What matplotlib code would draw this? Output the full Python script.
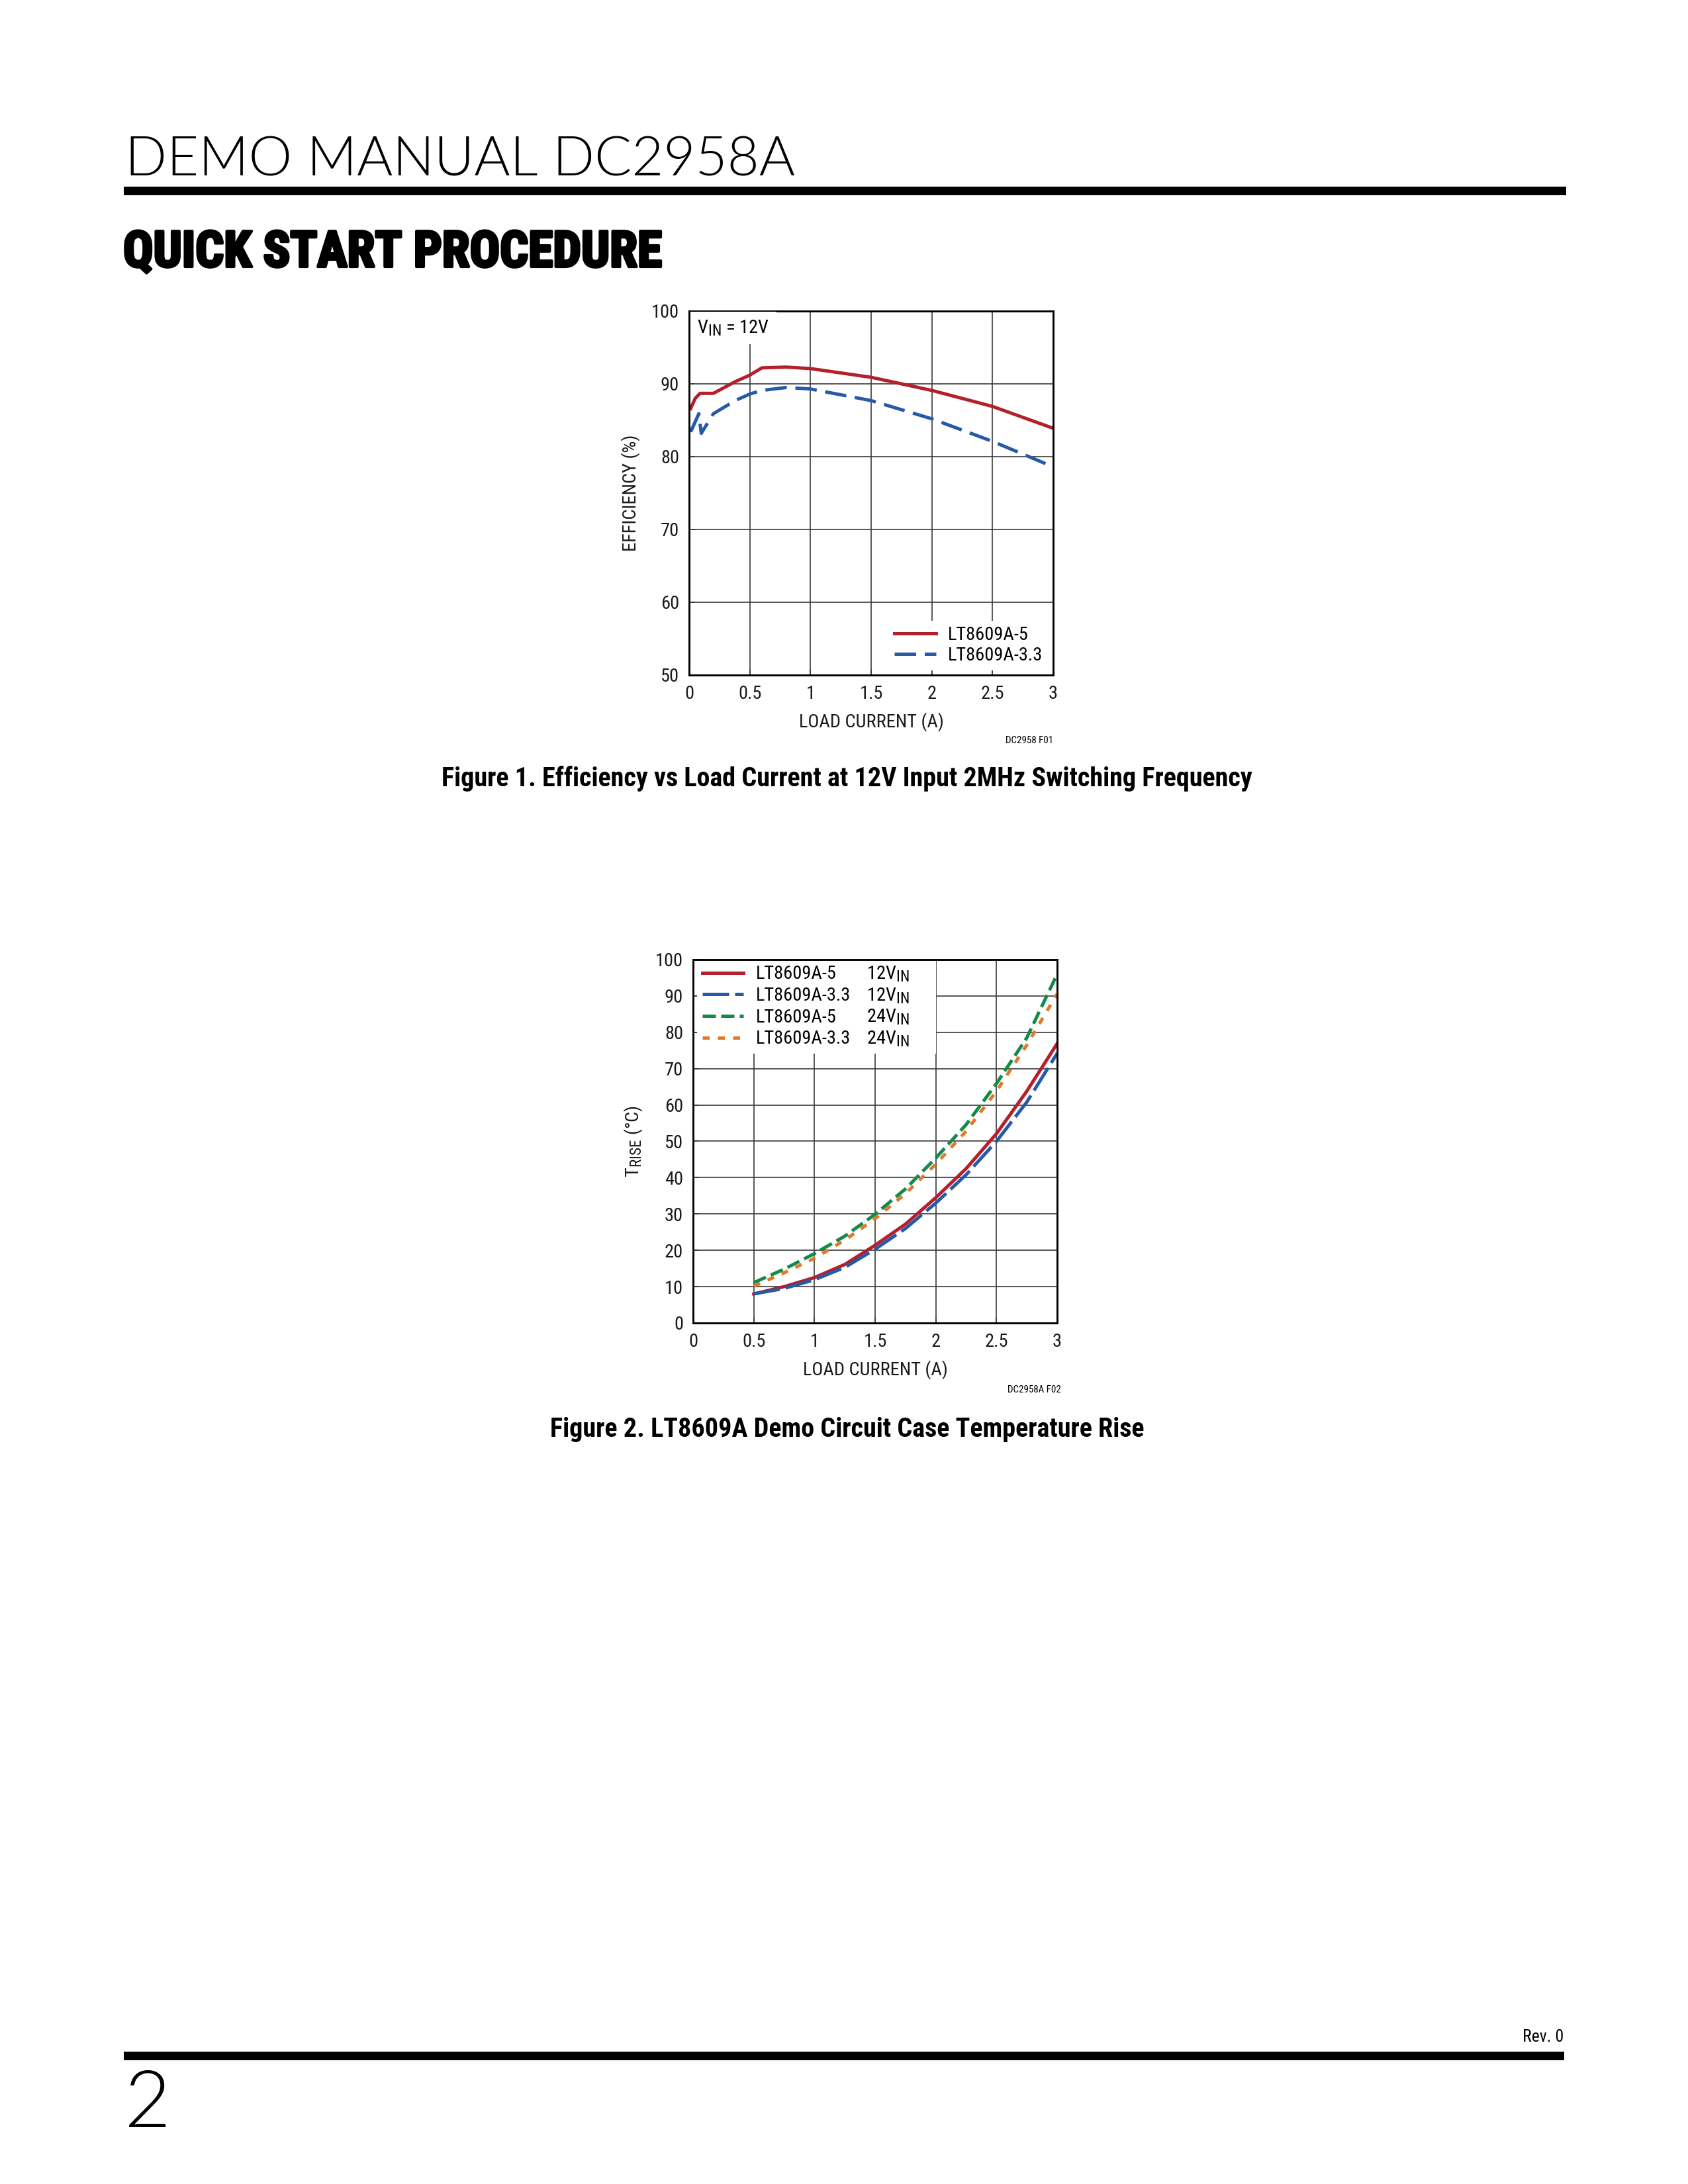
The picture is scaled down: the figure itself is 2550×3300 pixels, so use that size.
import matplotlib
matplotlib.use('Agg')
import matplotlib.pyplot as plt
import matplotlib.patheffects as pe
from matplotlib import font_manager as fm
from matplotlib.patches import Rectangle

# bigger sub/superscripts, closer to the datasheet look
try:
    import matplotlib._mathtext as _mt
    _mt.SHRINK_FACTOR = 0.82
except Exception:
    pass


# ---- data ----
# Figure 1: efficiency vs load current, VIN = 12V
i_load_5v = [0.013, 0.05, 0.09, 0.2, 0.38, 0.5, 0.6, 0.8, 1.0, 1.5, 2.0, 2.5, 3.0]
eff_5v = [86.6, 88.0, 88.7, 88.7, 90.3, 91.2, 92.2, 92.3, 92.1, 90.9, 89.1, 86.9, 83.9]
i_load_33v = [0.013, 0.08, 0.1, 0.2, 0.38, 0.5, 0.6, 0.8, 1.0, 1.5, 2.0, 2.5, 3.0]
eff_33v = [83.4, 85.9, 83.2, 85.9, 87.7, 88.6, 89.1, 89.5, 89.3, 87.7, 85.2, 82.1, 78.6]
eff_labels = ['LT8609A-5', 'LT8609A-3.3']

# Figure 2: case temperature rise
i_load = [0.5, 0.75, 1.0, 1.25, 1.5, 1.75, 2.0, 2.25, 2.5, 2.75, 3.0]
trise_5v_12 = [8.0, 10.0, 12.5, 16.1, 21.4, 27.2, 34.5, 42.5, 52.1, 63.8, 76.9]
trise_33v_12 = [8.0, 9.5, 11.9, 15.3, 20.3, 26.0, 33.0, 40.8, 50.0, 60.8, 74.2]
trise_5v_24 = [11.1, 14.8, 19.1, 23.9, 29.9, 36.9, 45.4, 54.6, 65.9, 78.5, 96.0]
trise_33v_24 = [10.1, 13.8, 17.8, 22.8, 28.7, 35.6, 43.7, 52.8, 63.8, 76.5, 90.6]
trise_parts = ['LT8609A-5', 'LT8609A-3.3', 'LT8609A-5', 'LT8609A-3.3']
trise_vin = [r'12V$_{\mathrm{IN}}$', r'12V$_{\mathrm{IN}}$', r'24V$_{\mathrm{IN}}$', r'24V$_{\mathrm{IN}}$']

x_ticks = [0, 0.5, 1, 1.5, 2, 2.5, 3]
x_tick_labels = ['0', '0.5', '1', '1.5', '2', '2.5', '3']
eff_ticks = [50, 60, 70, 80, 90, 100]
trise_ticks = [0, 10, 20, 30, 40, 50, 60, 70, 80, 90, 100]

RED = '#b3202b'
BLUE = '#2659a8'
GREEN = '#15894a'
ORANGE = '#e07a2a'


# ---- fonts ----
def _w(f):
    w = f.weight
    if isinstance(w, str):
        w = fm.weight_dict.get(w, 400)
    return w


def pick_font(names, weight):
    for name in names:
        cands = [f for f in fm.fontManager.ttflist
                 if f.name == name and f.style == 'normal']
        if cands:
            best = min(cands, key=lambda f: abs(_w(f) - weight))
            return name, best.fname
    return 'DejaVu Sans', fm.findfont('DejaVu Sans')


narrow_name, _ = pick_font(['Liberation Sans Narrow', 'Roboto Condensed',
                            'Liberation Sans'], 400)
_, narrow_bold_file = pick_font([narrow_name], 700)
_, light_file = pick_font(['Lato', 'Open Sans', 'Roboto', 'DejaVu Sans'], 300)

plt.rcParams['font.family'] = [narrow_name, 'DejaVu Sans']
plt.rcParams['mathtext.fontset'] = 'custom'
plt.rcParams['mathtext.rm'] = narrow_name
plt.rcParams['mathtext.it'] = narrow_name
plt.rcParams['mathtext.bf'] = narrow_name

FS = 6.8
W, H = 2550, 3300

fig = plt.figure(figsize=(8.5, 11), dpi=300)


def style_axes(ax, yticks):
    ax.set_xlim(0, 3)
    ax.set_ylim(yticks[0], yticks[-1])
    ax.set_xticks(x_ticks)
    ax.set_xticklabels(x_tick_labels)
    ax.set_yticks(yticks)
    ax.grid(True, color='#3a3a3a', lw=0.4)
    ax.tick_params(direction='in', length=2.2, width=0.4, color='#3a3a3a',
                   labelsize=FS, pad=3.6, labelcolor='#1a1a1a')
    for sp in ax.spines.values():
        sp.set_linewidth(0.7)
        sp.set_color('black')
    ax.set_xlabel('LOAD CURRENT (A)', fontsize=FS, color='#1a1a1a', labelpad=3.5)


# ---- Figure 1 ----
ax1 = fig.add_axes([1041 / W, 1 - 1020 / H, 550 / W, 550 / H])
style_axes(ax1, eff_ticks)
ax1.plot(i_load_5v, eff_5v, color=RED, lw=1.2, label=eff_labels[0],
         solid_joinstyle='round')
ax1.plot(i_load_33v, eff_33v, color=BLUE, lw=1.2, label=eff_labels[1],
         linestyle=(0, (6.5, 2.6)))
ax1.set_ylabel('EFFICIENCY (%)', fontsize=FS, color='#1a1a1a')
ax1.text(0.022, 0.94, r'V$_{\mathrm{IN}}$ = 12V', transform=ax1.transAxes,
         fontsize=FS, va='baseline', zorder=3,
         bbox=dict(facecolor='white', edgecolor='none', pad=2.5))
leg1 = ax1.legend(loc='lower right', fontsize=FS, frameon=True,
                  facecolor='white', edgecolor='none', framealpha=1,
                  fancybox=False, borderaxespad=0.25, borderpad=0.3,
                  handlelength=2.2, handletextpad=0.65, labelspacing=0.15)
leg1.set_zorder(2.2)
ax1.text(1.0, -0.187, 'DC2958 F01', transform=ax1.transAxes, ha='right',
         va='baseline', fontsize=3.6)

# ---- Figure 2 ----
ax2 = fig.add_axes([1047 / W, 1 - 1999 / H, 550 / W, 549 / H])
style_axes(ax2, trise_ticks)
ax2.plot(i_load, trise_5v_12, color=RED, lw=1.2, label=trise_parts[0])
ax2.plot(i_load, trise_33v_12, color=BLUE, lw=1.2, label=trise_parts[1],
         linestyle=(0, (8, 1.8)))
ax2.plot(i_load, trise_5v_24, color=GREEN, lw=1.2, label=trise_parts[2],
         linestyle=(0, (4, 1.6)))
ax2.plot(i_load, trise_33v_24, color=ORANGE, lw=1.2, label=trise_parts[3],
         linestyle=(0, (2.1, 2.5)))
ax2.set_ylabel(r'T$_{\mathrm{RISE}}$ (°C)', fontsize=FS, color='#1a1a1a')
leg2 = ax2.legend(loc='upper left', bbox_to_anchor=(0.01, 0, 2 / 3 - 0.01, 1),
                  mode='expand', fontsize=FS, frameon=True, facecolor='white',
                  edgecolor='none', framealpha=1, fancybox=False,
                  borderaxespad=0, borderpad=0.3, handlelength=2.2,
                  handletextpad=0.65, labelspacing=0.2)
leg2.set_zorder(2.2)
ax2.text(1.011, -0.191, 'DC2958A F02', transform=ax2.transAxes, ha='right',
         va='baseline', fontsize=3.6)

# ---- page furniture ----
header = fig.text(189 / W, 1 - 265 / H, 'DEMO MANUAL DC2958A',
                  fontproperties=fm.FontProperties(fname=light_file),
                  fontsize=18, va='baseline')
fig.add_artist(Rectangle((187 / W, 1 - 295 / H), (2366 - 187) / W, 13 / H,
                         transform=fig.transFigure, color='black', lw=0))
section = fig.text(186 / W, 1 - 403 / H, 'QUICK START PROCEDURE',
                   fontproperties=fm.FontProperties(fname=narrow_bold_file),
                   fontsize=18, va='baseline',
                   path_effects=[pe.withStroke(linewidth=1.0, foreground='black')])
cap1 = fig.text(1279.5 / W, 1 - 1188 / H,
                'Figure 1. Efficiency vs Load Current at 12V Input 2MHz Switching Frequency',
                fontproperties=fm.FontProperties(fname=narrow_bold_file),
                fontsize=10, ha='center', va='baseline')
cap2 = fig.text(1279.5 / W, 1 - 2171 / H,
                'Figure 2. LT8609A Demo Circuit Case Temperature Rise',
                fontproperties=fm.FontProperties(fname=narrow_bold_file),
                fontsize=10, ha='center', va='baseline')
fig.add_artist(Rectangle((187 / W, 1 - 3113 / H), (2363 - 187) / W, 13 / H,
                         transform=fig.transFigure, color='black', lw=0))
fig.text(2362 / W, 1 - 3085 / H, 'Rev. 0', ha='right', va='baseline',
         fontsize=6.2)
fig.text(188 / W, 1 - 3214 / H, '2',
         fontproperties=fm.FontProperties(fname=light_file),
         fontsize=29, va='baseline')

# size the big texts by their measured width in the reference
renderer = fig.canvas.get_renderer()


def fit_width(t, target_px):
    w = t.get_window_extent(renderer).width
    t.set_fontsize(t.get_fontsize() * target_px / w)


fit_width(header, 1013)
fit_width(section, 814)
fit_width(cap1, 1227)
cap2.set_fontsize(cap1.get_fontsize())

# second legend column (input voltage), aligned on the legend baselines
fig.canvas.draw()
for txt, vin in zip(leg2.get_texts(), trise_vin):
    xd, yd = txt.get_transform().transform(txt.get_position())
    _, ya = ax2.transAxes.inverted().transform((xd, yd))
    ax2.text(0.476, ya, vin, transform=ax2.transAxes, fontsize=FS,
             va='baseline', ha='left', zorder=6)

fig.savefig('out.png', dpi=300)
